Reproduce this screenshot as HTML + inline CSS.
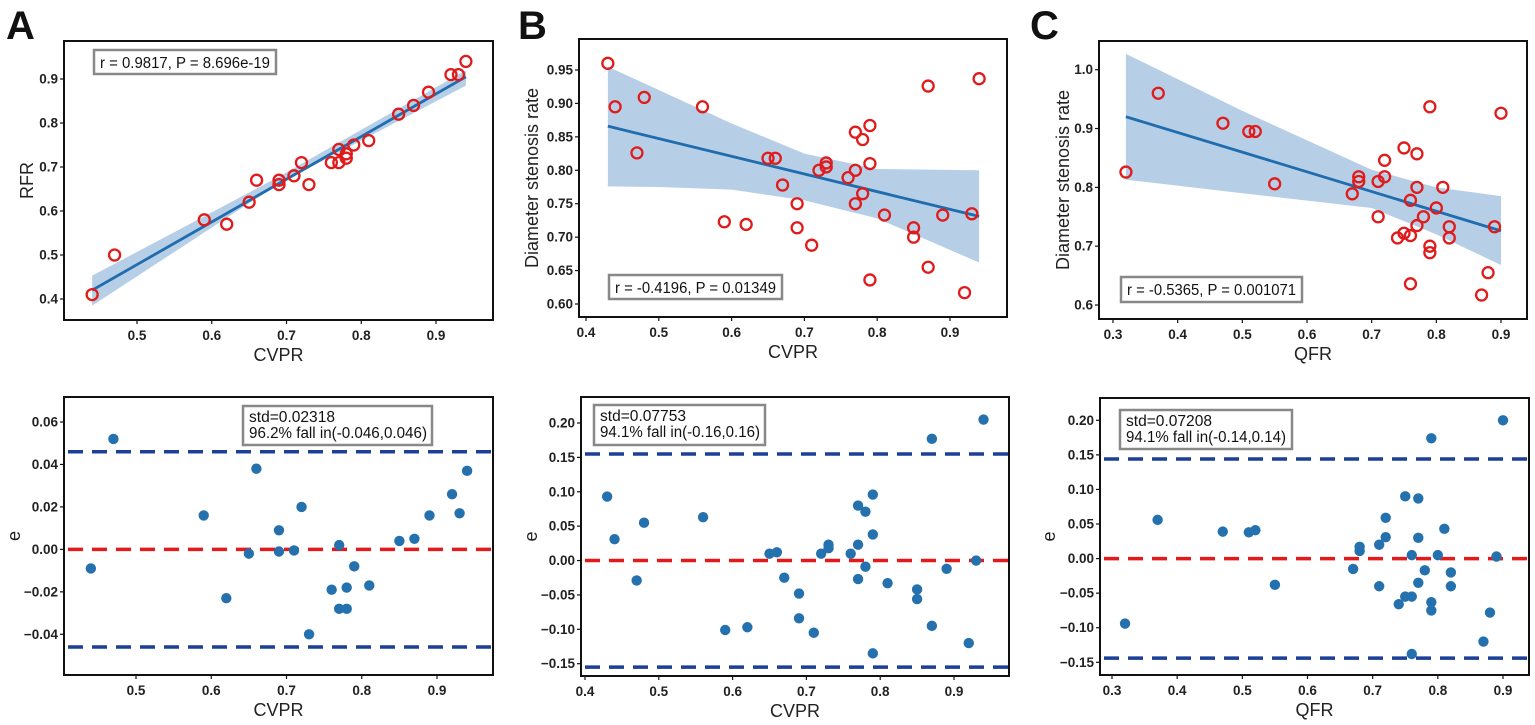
<!DOCTYPE html>
<html><head><meta charset="utf-8"><style>
body{margin:0;background:#fff}
svg{display:block;font-family:"Liberation Sans",sans-serif}
.tk{font-size:13.5px;fill:#222;font-weight:bold}
.at{font-size:18px;fill:#222}
.lt{font-size:40px;font-weight:bold;fill:#111}
.bx{font-size:15.5px;fill:#111}
</style></head><body>
<svg id="fig" width="1535" height="725" viewBox="0 0 1535 725" xmlns="http://www.w3.org/2000/svg"></svg>
<script>
// ---- Panel A top
const aX=[0.44,0.47,0.59,0.62,0.65,0.66,0.69,0.69,0.71,0.72,0.73,0.76,0.77,0.77,0.78,0.78,0.79,0.81,0.85,0.87,0.89,0.92,0.93,0.94];
const aY=[0.41,0.50,0.58,0.57,0.62,0.67,0.67,0.66,0.68,0.71,0.66,0.71,0.71,0.74,0.73,0.72,0.75,0.76,0.82,0.84,0.87,0.91,0.91,0.94];
const aLineX=[0.44,0.94], aLineY=[0.42,0.905];
const aBandX=[0.44,0.69,0.94], aBandHi=[0.453,0.678,0.92], aBandLo=[0.385,0.662,0.885];
// ---- Panel B top
const bX=[0.43,0.44,0.47,0.48,0.56,0.59,0.62,0.65,0.66,0.67,0.69,0.69,0.71,0.72,0.73,0.73,0.76,0.77,0.77,0.77,0.78,0.78,0.79,0.79,0.79,0.81,0.85,0.85,0.87,0.87,0.89,0.92,0.93,0.94];
const bY=[0.96,0.895,0.826,0.909,0.895,0.723,0.719,0.818,0.818,0.778,0.75,0.714,0.688,0.80,0.811,0.805,0.789,0.857,0.80,0.75,0.846,0.765,0.867,0.81,0.636,0.733,0.714,0.70,0.926,0.655,0.733,0.617,0.735,0.937];
const bLineX=[0.43,0.94], bLineY=[0.866,0.731];
const bBandX=[0.43,0.5,0.6,0.7,0.8,0.94], bBandHi=[0.955,0.92,0.87,0.825,0.802,0.80], bBandLo=[0.776,0.775,0.771,0.755,0.728,0.662];
// ---- Panel C top
const cX=[0.32,0.37,0.47,0.51,0.52,0.55,0.67,0.68,0.68,0.71,0.71,0.72,0.72,0.74,0.75,0.75,0.76,0.76,0.76,0.77,0.77,0.77,0.78,0.79,0.79,0.79,0.80,0.81,0.82,0.82,0.87,0.88,0.89,0.90];
const cY=[0.826,0.96,0.909,0.895,0.895,0.806,0.789,0.818,0.81,0.81,0.75,0.846,0.818,0.714,0.867,0.722,0.778,0.718,0.636,0.857,0.80,0.735,0.75,0.937,0.70,0.689,0.765,0.80,0.733,0.714,0.617,0.655,0.733,0.926];
const cLineX=[0.32,0.90], cLineY=[0.92,0.726];
const cBandX=[0.32,0.5,0.7,0.8,0.9], cBandHi=[1.027,0.93,0.83,0.80,0.785], cBandLo=[0.813,0.79,0.765,0.72,0.668];
// ---- Residuals
const aE=[-0.009,0.052,0.016,-0.023,-0.002,0.038,0.009,-0.001,-0.0005,0.020,-0.040,-0.019,-0.028,0.002,-0.018,-0.028,-0.008,-0.017,0.004,0.005,0.016,0.026,0.017,0.037];
const bE=[0.093,0.031,-0.029,0.055,0.063,-0.101,-0.097,0.010,0.012,-0.025,-0.048,-0.084,-0.105,0.010,0.023,0.018,0.010,0.080,0.023,-0.027,0.071,-0.009,0.096,0.038,-0.135,-0.033,-0.042,-0.056,0.177,-0.095,-0.012,-0.120,0.0,0.205];
const cE=[-0.094,0.056,0.039,0.038,0.041,-0.038,-0.015,0.017,0.011,0.020,-0.040,0.059,0.031,-0.066,0.090,-0.055,0.005,-0.055,-0.138,0.087,0.030,-0.035,-0.017,0.174,-0.063,-0.075,0.005,0.043,-0.020,-0.040,-0.120,-0.078,0.003,0.200];
const aLimit=0.046, bLimit=0.155, cLimit=0.144;
// tick labels
const aTopXT=["0.5","0.6","0.7","0.8","0.9"], aTopYT=["0.4","0.5","0.6","0.7","0.8","0.9"];
const bTopXT=["0.4","0.5","0.6","0.7","0.8","0.9"], bTopYT=["0.60","0.65","0.70","0.75","0.80","0.85","0.90","0.95"];
const cTopXT=["0.3","0.4","0.5","0.6","0.7","0.8","0.9"], cTopYT=["0.6","0.7","0.8","0.9","1.0"];
const aBotYT=["-0.04","-0.02","0.00","0.02","0.04","0.06"];
const bcBotYT=["-0.15","-0.10","-0.05","0.00","0.05","0.10","0.15","0.20"];

const NS="http://www.w3.org/2000/svg", svg=document.getElementById('fig');
function mk(t,a,p){const e=document.createElementNS(NS,t);for(const k in a)e.setAttribute(k,a[k]);(p||svg).appendChild(e);return e;}
function lin(v0,p0,v1,p1){return v=>p0+(v-v0)*(p1-p0)/(v1-v0);}

function panel(o){
  const g=mk('g',{});
  
  
  const X=lin(o.xc[0],o.xc[1],o.xc[2],o.xc[3]), Y=lin(o.yc[0],o.yc[1],o.yc[2],o.yc[3]);
  const [L,T,R,B]=o.frame;
  const clipId='c'+o.name; const cp=mk('clipPath',{id:clipId},g); mk('rect',{x:L,y:T,width:R-L,height:B-T},cp);
  const inner=mk('g',{'clip-path':'url(#'+clipId+')'},g);
  if(o.band){
    let d='M'+o.band.x.map((x,i)=>X(x)+','+Y(o.band.hi[i])).join('L');
    d+='L'+o.band.x.map((x,i)=>X(x)+','+Y(o.band.lo[i])).reverse().join('L')+'Z';
    const p=mk('path',{d:d,fill:'#b7cfe6'},inner);
    
    
  }
  if(o.line){
    const l=mk('line',{x1:X(o.line.x[0]),y1:Y(o.line.y[0]),x2:X(o.line.x[1]),y2:Y(o.line.y[1]),stroke:'#1f6cae','stroke-width':2.8},inner);
    
    
  }
  if(o.limit!==undefined){
    [[o.limit,'#1c3f98','upper-limit-line'],[-o.limit,'#1c3f98','lower-limit-line'],[0,'#e41a1a','zero-line']].forEach(q=>{
      const l=mk('line',{x1:L+4,x2:R,y1:Y(q[0]),y2:Y(q[0]),stroke:q[1],'stroke-width':3.5,'stroke-dasharray':'15,9'},inner);
      
      
    });
  }
  o.xs.forEach((x,i)=>{
    let c;
    if(o.open) c=mk('circle',{cx:X(x),cy:Y(o.ys[i]),r:5.5,fill:'none',stroke:'#e01b1b','stroke-width':2.3},inner);
    else c=mk('circle',{cx:X(x),cy:Y(o.ys[i]),r:5.2,fill:'#2471ad'},inner);
    
    
  });
  const fr=mk('rect',{x:L,y:T,width:R-L,height:B-T,fill:'none',stroke:'#111','stroke-width':2},g);
  
  
  o.xt.forEach(s=>{const v=parseFloat(s),px=X(v);
    mk('line',{x1:px,x2:px,y1:B,y2:B+4,stroke:'#111','stroke-width':1.2},g);
    const t=mk('text',{x:px,y:B+20,'text-anchor':'middle',class:'tk'},g);t.textContent=s.replace('-','\u2212');
    
    });
  o.yt.forEach(s=>{const v=parseFloat(s),py=Y(v);
    mk('line',{x1:L-4,x2:L,y1:py,y2:py,stroke:'#111','stroke-width':1.2},g);
    const t=mk('text',{x:L-6,y:py+4.5,'text-anchor':'end',class:'tk'},g);t.textContent=s.replace('-','\u2212');
    
    });
  const xl=mk('text',{x:(L+R)/2,y:B+41,'text-anchor':'middle',class:'at'},g);xl.textContent=o.xlabel;
  
  
  const yl=mk('text',{x:0,y:0,'text-anchor':'middle',class:'at',transform:'translate('+o.ylx+','+(T+B)/2+') rotate(-90)'},g);yl.textContent=o.ylabel;
  
  
  const b=o.box;
  const br=mk('rect',{x:b[0],y:b[1],width:b[2]-b[0],height:b[3]-b[1],fill:'#fff',stroke:'#888','stroke-width':2.5},g);
  
  
  o.text.forEach((s,i)=>{
    const attrs={x:b[0]+6,y:b[1]+(o.text.length==1?18:16)+i*16,class:'bx'};
    if(o.tl && o.tl[i]){attrs.textLength=o.tl[i];attrs.lengthAdjust='spacingAndGlyphs';}
    const t=mk('text',attrs,g);t.textContent=s;
    
    });
}
panel({name:'panel-a-correlation',frame:[64,41,493,320],xc:[0.5,137,0.9,436],yc:[0.9,79,0.4,299],xs:aX,ys:aY,open:true,
  band:{x:aBandX,hi:aBandHi,lo:aBandLo},line:{x:aLineX,y:aLineY},xt:aTopXT,yt:aTopYT,xlabel:'CVPR',ylabel:'RFR',ylx:33,
  box:[94,50,276,74],tl:[170],text:['r = 0.9817, P = 8.696e-19']});
panel({name:'panel-b-correlation',frame:[579,39,1007,317],xc:[0.4,586,0.9,950],yc:[0.95,70,0.60,304],xs:bX,ys:bY,open:true,
  band:{x:bBandX,hi:bBandHi,lo:bBandLo},line:{x:bLineX,y:bLineY},xt:bTopXT,yt:bTopYT,xlabel:'CVPR',ylabel:'Diameter stenosis rate',ylx:538,
  box:[609,275,782,299],tl:[161],text:['r = -0.4196, P = 0.01349']});
panel({name:'panel-c-correlation',frame:[1099,41,1527,319],xc:[0.3,1113,0.9,1501],yc:[1.0,69.7,0.6,305],xs:cX,ys:cY,open:true,
  band:{x:cBandX,hi:cBandHi,lo:cBandLo},line:{x:cLineX,y:cLineY},xt:cTopXT,yt:cTopYT,xlabel:'QFR',ylabel:'Diameter stenosis rate',ylx:1069,
  box:[1121,277,1302,302],tl:[169],text:['r = -0.5365, P = 0.001071']});
panel({name:'panel-a-residuals',frame:[64,397,493,675],xc:[0.5,136,0.9,437],yc:[0.06,422,-0.04,634.3],xs:aX,ys:aE,open:false,limit:aLimit,
  xt:aTopXT,yt:aBotYT,xlabel:'CVPR',ylabel:'e',ylx:20,box:[243,406,432,445],tl:[86,178],text:['std=0.02318','96.2% fall in(-0.046,0.046)']});
panel({name:'panel-b-residuals',frame:[581,397,1009,676],xc:[0.4,585,0.9,954],yc:[0.20,423,-0.15,663.7],xs:bX,ys:bE,open:false,limit:bLimit,
  xt:bTopXT,yt:bcBotYT,xlabel:'CVPR',ylabel:'e',ylx:537,box:[594,405,765,445],tl:[86,160],text:['std=0.07753','94.1% fall in(-0.16,0.16)']});
panel({name:'panel-c-residuals',frame:[1100,398,1529,675],xc:[0.3,1112,0.9,1503],yc:[0.20,420.3,-0.15,662.3],xs:cX,ys:cE,open:false,limit:cLimit,
  xt:cTopXT,yt:bcBotYT,xlabel:'QFR',ylabel:'e',ylx:1055,box:[1120,410,1292,449],tl:[86,160],text:['std=0.07208','94.1% fall in(-0.14,0.14)']});
[['A',6,'panel-a-label'],['B',518,'panel-b-label'],['C',1030,'panel-c-label']].forEach(q=>{
  const t=mk('text',{x:q[1],y:39,class:'lt'});t.textContent=q[0];
  
  
});
</script>
</body></html>
